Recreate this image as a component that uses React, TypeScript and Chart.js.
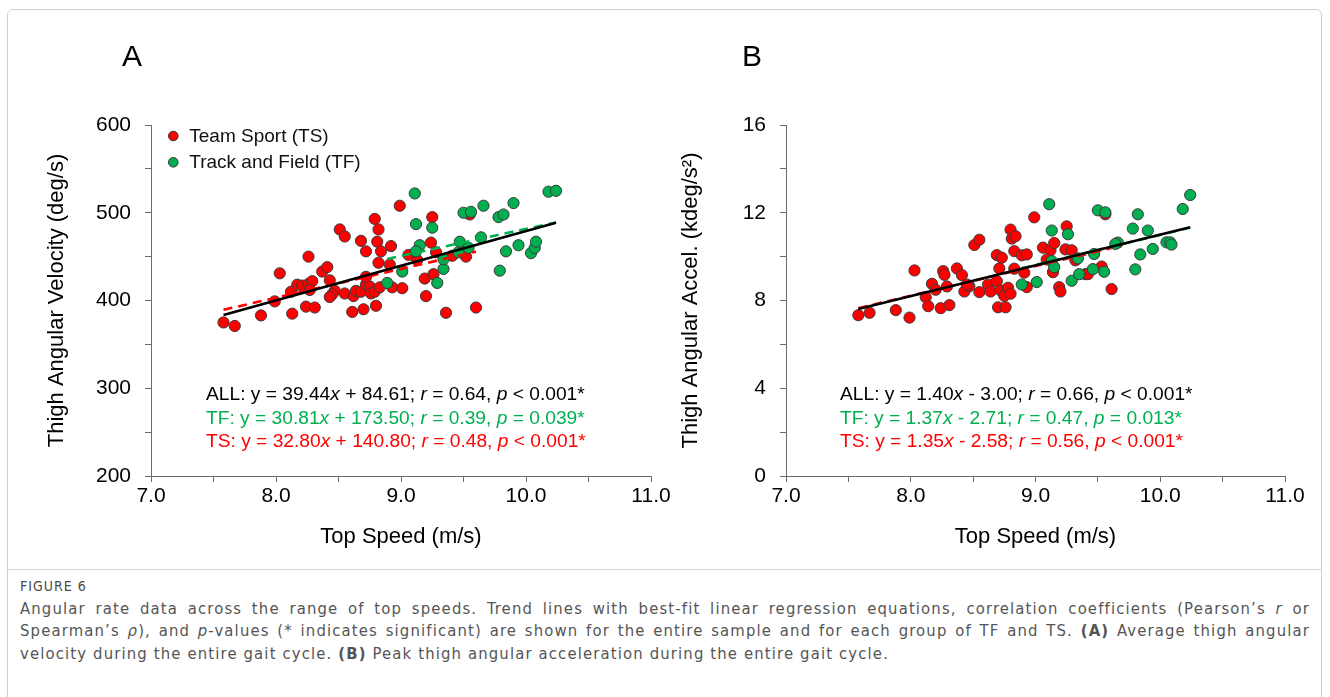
import React, { useEffect, useRef } from 'react';
import { Chart, registerables } from 'chart.js';

Chart.register(...registerables);

// ---------- DATA ----------
// Panel A: Thigh angular velocity (deg/s) vs top speed (m/s)
const tsSpeedA = [7.58, 7.67, 7.88, 7.99, 8.03, 8.12, 8.13, 8.17, 8.21, 8.26, 8.29, 8.27, 8.26, 8.24, 8.31, 8.37, 8.41, 8.43, 8.47, 8.45, 8.43, 8.51, 8.55, 8.55, 8.62, 8.64, 8.61, 8.70, 8.68, 8.72, 8.68, 8.72, 8.75, 8.76, 8.79, 8.83, 8.72, 8.79, 8.82, 8.81, 8.84, 8.82, 8.91, 8.92, 8.80, 8.93, 9.01, 8.99, 9.06, 9.13, 9.24, 9.25, 9.28, 9.19, 9.26, 9.20, 9.36, 9.41, 9.52, 9.55, 9.60];
const tsVelA = [375, 371, 383, 399, 431, 410, 385, 418, 417, 419, 422, 412, 450, 393, 392, 433, 438, 423, 411, 407, 404, 481, 473, 408, 405, 411, 387, 390, 468, 456, 410, 418, 416, 408, 410, 415, 427, 493, 481, 467, 456, 443, 441, 462, 394, 415, 414, 508, 452, 446, 466, 495, 455, 425, 430, 405, 386, 451, 450, 498, 392];
const tfSpeedA = [8.89, 9.01, 9.11, 9.12, 9.25, 9.15, 9.12, 9.29, 9.34, 9.34, 9.46, 9.47, 9.50, 9.56, 9.54, 9.66, 9.64, 9.79, 9.84, 9.78, 9.82, 9.90, 9.94, 10.04, 10.07, 10.08, 10.18, 10.24];
const tfVelA = [420, 433, 522, 487, 483, 463, 456, 420, 436, 447, 455, 467, 500, 501, 460, 508, 472, 434, 456, 495, 498, 511, 463, 454, 460, 467, 524, 525];

// Panel A trend lines (end points)
const allLineA_x = [7.58, 10.24];
const allLineA_y = [383.6, 488.5];
const tfLineA_x = [8.89, 10.24];
const tfLineA_y = [447.4, 489.0];
const tsLineA_x = [7.58, 9.60];
const tsLineA_y = [389.4, 455.7];

// Panel B: Thigh angular acceleration (kdeg/s^2) vs top speed (m/s)
const tsSpeedB = [7.58, 7.67, 7.88, 7.99, 8.03, 8.12, 8.14, 8.17, 8.20, 8.24, 8.26, 8.27, 8.29, 8.31, 8.37, 8.41, 8.43, 8.47, 8.45, 8.51, 8.55, 8.55, 8.62, 8.64, 8.69, 8.70, 8.76, 8.69, 8.73, 8.71, 8.72, 8.75, 8.78, 8.80, 8.80, 8.81, 8.84, 8.83, 8.83, 8.89, 8.93, 8.91, 8.93, 8.99, 9.06, 9.12, 9.09, 9.15, 9.14, 9.19, 9.20, 9.24, 9.25, 9.29, 9.32, 9.40, 9.42, 9.53, 9.56, 9.61];
const tsAccB = [7.33, 7.44, 7.56, 7.22, 9.37, 8.15, 7.74, 8.76, 8.49, 7.65, 9.34, 9.17, 8.64, 7.79, 9.46, 9.16, 8.41, 8.65, 8.73, 10.53, 10.77, 8.38, 8.73, 8.41, 8.88, 7.69, 7.69, 10.07, 9.95, 9.46, 8.46, 8.21, 8.58, 8.31, 11.23, 10.82, 10.93, 10.25, 9.45, 10.06, 10.10, 9.27, 8.61, 11.79, 10.41, 10.29, 9.87, 10.62, 9.29, 8.61, 8.41, 10.33, 11.38, 10.29, 9.83, 9.20, 9.20, 9.55, 11.93, 8.52];
const tfSpeedB = [8.89, 9.01, 9.11, 9.13, 9.26, 9.13, 9.15, 9.29, 9.35, 9.34, 9.47, 9.46, 9.50, 9.56, 9.55, 9.66, 9.64, 9.78, 9.82, 9.80, 9.84, 9.90, 9.94, 10.05, 10.08, 10.09, 10.18, 10.24];
const tfAccB = [8.73, 8.84, 12.39, 11.19, 11.02, 9.80, 9.52, 8.90, 9.20, 9.92, 10.12, 9.43, 12.11, 12.02, 9.31, 10.64, 10.58, 11.28, 11.93, 9.42, 10.10, 11.19, 10.35, 10.65, 10.65, 10.55, 12.17, 12.81];

// Panel B trend lines (end points)
const allLineB_x = [7.58, 10.24];
const allLineB_y = [7.61, 11.34];
const tfLineB_x = [8.89, 10.24];
const tfLineB_y = [9.47, 11.32];
const tsLineB_x = [7.58, 9.61];
const tsLineB_y = [7.65, 10.39];

// Axis ranges / ticks
const xMin = 7, xMax = 11, xStep = 0.5;
const yA_min = 200, yA_max = 600, yA_step = 50, yA_labelEvery = 100;
const yB_min = 0, yB_max = 16, yB_step = 2, yB_labelEvery = 4;

const legendLabels = ['Team Sport (TS)', 'Track and Field (TF)'];

// ---------- STYLE ----------
const RED = '#FF0000';
const GREEN = '#00B050';
const AXIS = '#6b6b6b';
const FONT = '"Liberation Sans", Arial, Helvetica, sans-serif';

Chart.defaults.font.family = FONT;

const pairs = (xs: number[], ys: number[]) => xs.map((x, i) => ({ x, y: ys[i] }));

const insideLegend = {
  id: 'insideLegend',
  afterDraw(chart: any, _args: any, opts: any) {
    if (!opts || !opts.show) return;
    const { ctx, chartArea } = chart;
    const colors = [RED, GREEN];
    ctx.save();
    ctx.font = `19px ${FONT}`;
    ctx.textBaseline = 'middle';
    ctx.textAlign = 'left';
    legendLabels.forEach((label, i) => {
      const cx = chartArea.left + 22.3;
      const cy = chartArea.top + 11 + i * 26.3;
      ctx.beginPath();
      ctx.arc(cx, cy, 4.8, 0, Math.PI * 2);
      ctx.fillStyle = colors[i];
      ctx.fill();
      ctx.lineWidth = 1;
      ctx.strokeStyle = '#333';
      ctx.stroke();
      ctx.fillStyle = '#111';
      ctx.fillText(label, chartArea.left + 38.3, cy + 0.5);
    });
    ctx.restore();
  },
};

type PanelSpec = {
  tsX: number[]; tsY: number[]; tfX: number[]; tfY: number[];
  allX: number[]; allY: number[]; tfLX: number[]; tfLY: number[]; tsLX: number[]; tsLY: number[];
  yMin: number; yMax: number; yStep: number; yLabelEvery: number;
  yTitle: string; padLeft: number; yWidth: number; padRight: number; legend: boolean;
};

function makeConfig(p: PanelSpec): any {
  const pointStyle = { borderColor: '#3a3a3a', borderWidth: 1, pointRadius: 5.6, showLine: false };
  const lineStyle = { pointRadius: 0, showLine: true, borderWidth: 2.6, fill: false };
  return {
    type: 'scatter',
    data: {
      datasets: [
        { label: 'ALL trend', data: pairs(p.allX, p.allY), borderColor: '#000', ...lineStyle, order: 0 },
        { label: 'TF trend', data: pairs(p.tfLX, p.tfLY), borderColor: GREEN, borderDash: [9, 6], ...lineStyle, order: 1 },
        { label: 'TS trend', data: pairs(p.tsLX, p.tsLY), borderColor: RED, borderDash: [9, 6], ...lineStyle, order: 2 },
        { label: legendLabels[1], data: pairs(p.tfX, p.tfY), backgroundColor: GREEN, ...pointStyle, order: 3 },
        { label: legendLabels[0], data: pairs(p.tsX, p.tsY), backgroundColor: RED, ...pointStyle, order: 4 },
      ],
    },
    options: {
      responsive: false,
      animation: false,
      devicePixelRatio: 1,
      events: [],
      layout: { padding: { left: p.padLeft, right: p.padRight, top: 125, bottom: 20 } },
      plugins: {
        legend: { display: false },
        tooltip: { enabled: false },
        insideLegend: { show: p.legend },
      },
      scales: {
        x: {
          type: 'linear',
          min: xMin,
          max: xMax,
          afterFit: (s: any) => { s.height = 74; },
          ticks: {
            stepSize: xStep,
            autoSkip: false,
            padding: 2,
            color: '#000',
            font: { size: 21 },
            callback: (v: any) => (Math.abs(v - Math.round(v)) < 1e-9 ? Number(v).toFixed(1) : ''),
          },
          grid: { drawOnChartArea: false, drawTicks: true, tickLength: 6, color: AXIS },
          border: { color: AXIS, width: 1 },
          title: { display: true, text: 'Top Speed (m/s)', color: '#000', font: { size: 22 }, padding: 0 },
        },
        y: {
          type: 'linear',
          min: p.yMin,
          max: p.yMax,
          afterFit: (s: any) => { s.width = p.yWidth; },
          ticks: {
            stepSize: p.yStep,
            autoSkip: false,
            padding: 14,
            color: '#000',
            font: { size: 21 },
            callback: (v: any) => (Math.abs(v % p.yLabelEvery) < 1e-9 ? String(v) : ''),
          },
          grid: { drawOnChartArea: false, drawTicks: true, tickLength: 6, color: AXIS },
          border: { color: AXIS, width: 1 },
          title: { display: true, text: p.yTitle, color: '#000', font: { size: 22 }, padding: 0 },
        },
      },
    },
    plugins: [insideLegend],
  };
}

function Panel({ spec, left }: { spec: PanelSpec; left: number }) {
  const ref = useRef<HTMLCanvasElement>(null);
  useEffect(() => {
    const chart = new Chart(ref.current as HTMLCanvasElement, makeConfig(spec));
    return () => chart.destroy();
  }, []);
  return (
    <canvas
      ref={ref}
      width={690}
      height={570}
      style={{ position: 'absolute', left, top: 0, width: 690, height: 570 }}
    />
  );
}

const specA: PanelSpec = {
  tsX: tsSpeedA, tsY: tsVelA, tfX: tfSpeedA, tfY: tfVelA,
  allX: allLineA_x, allY: allLineA_y, tfLX: tfLineA_x, tfLY: tfLineA_y, tsLX: tsLineA_x, tsLY: tsLineA_y,
  yMin: yA_min, yMax: yA_max, yStep: yA_step, yLabelEvery: yA_labelEvery,
  yTitle: 'Thigh Angular Velocity (deg/s)', padLeft: 44, yWidth: 107, padRight: 39, legend: true,
};

const specB: PanelSpec = {
  tsX: tsSpeedB, tsY: tsAccB, tfX: tfSpeedB, tfY: tfAccB,
  allX: allLineB_x, allY: allLineB_y, tfLX: tfLineB_x, tfLY: tfLineB_y, tsLX: tsLineB_x, tsLY: tsLineB_y,
  yMin: yB_min, yMax: yB_max, yStep: yB_step, yLabelEvery: yB_labelEvery,
  yTitle: 'Thigh Angular Accel. (kdeg/s²)', padLeft: 38, yWidth: 108, padRight: 45, legend: false,
};

const eqStyle = (left: number, top: number, color: string): React.CSSProperties => ({
  position: 'absolute', left, top, color, fontSize: 19.2, lineHeight: '19px', whiteSpace: 'nowrap', fontFamily: FONT,
});

const capFont = '"DejaVu Sans Condensed", "DejaVu Sans", sans-serif';
const capLine = (top: number, justify: boolean): React.CSSProperties => ({
  position: 'absolute', left: 20, top, width: 1290, fontSize: 16.5, lineHeight: '22px', color: '#555',
  fontFamily: capFont, fontStretch: 'condensed', whiteSpace: 'nowrap', letterSpacing: '1.15px',
  textAlign: justify ? 'justify' : 'left', textAlignLast: justify ? 'justify' : 'left',
});

export default function App() {
  return (
    <div style={{ position: 'fixed', left: 0, top: 0, width: 1330, height: 697, background: '#fff', overflow: 'hidden', fontFamily: FONT }}>
      <div style={{ position: 'absolute', left: 7, top: 9, width: 1315, height: 760, border: '1px solid #cfcfcf', borderRadius: 6, boxSizing: 'border-box' }} />
      <div style={{ position: 'absolute', left: 8, top: 569, width: 1313, height: 1, background: '#d6d6d6' }} />

      <Panel spec={specA} left={0} />
      <Panel spec={specB} left={640} />

      <div style={{ position: 'absolute', left: 122, top: 41, fontSize: 30, lineHeight: '30px', color: '#000' }}>A</div>
      <div style={{ position: 'absolute', left: 742, top: 41, fontSize: 30, lineHeight: '30px', color: '#000' }}>B</div>

      <div style={eqStyle(206, 384, '#000')}>ALL: y = 39.44<i>x</i> + 84.61; <i>r</i> = 0.64, <i>p</i> &lt; 0.001*</div>
      <div style={eqStyle(206, 407.5, GREEN)}>TF: y = 30.81<i>x</i> + 173.50; <i>r</i> = 0.39, <i>p</i> = 0.039*</div>
      <div style={eqStyle(206, 431, RED)}>TS: y = 32.80<i>x</i> + 140.80; <i>r</i> = 0.48, <i>p</i> &lt; 0.001*</div>

      <div style={eqStyle(840, 384, '#000')}>ALL: y = 1.40<i>x</i> - 3.00; <i>r</i> = 0.66, <i>p</i> &lt; 0.001*</div>
      <div style={eqStyle(840, 407.5, GREEN)}>TF: y = 1.37<i>x</i> - 2.71; <i>r</i> = 0.47, <i>p</i> = 0.013*</div>
      <div style={eqStyle(840, 431, RED)}>TS: y = 1.35<i>x</i> - 2.58; <i>r</i> = 0.56, <i>p</i> &lt; 0.001*</div>

      <div style={{ position: 'absolute', left: 20, top: 578, fontSize: 14, lineHeight: '16px', color: '#4a4a4a', fontFamily: capFont, fontStretch: 'condensed', letterSpacing: '1px' }}>FIGURE 6</div>
      <div style={capLine(597.5, true)}>
        Angular rate data across the range of top speeds. Trend lines with best-fit linear regression equations, correlation coefficients (Pearson’s <i>r</i> or
      </div>
      <div style={capLine(620, true)}>
        Spearman’s <i>ρ</i>), and <i>p</i>-values (* indicates significant) are shown for the entire sample and for each group of TF and TS. <b>(A)</b> Average thigh angular
      </div>
      <div style={capLine(642.5, false)}>
        velocity during the entire gait cycle. <b>(B)</b> Peak thigh angular acceleration during the entire gait cycle.
      </div>
    </div>
  );
}
